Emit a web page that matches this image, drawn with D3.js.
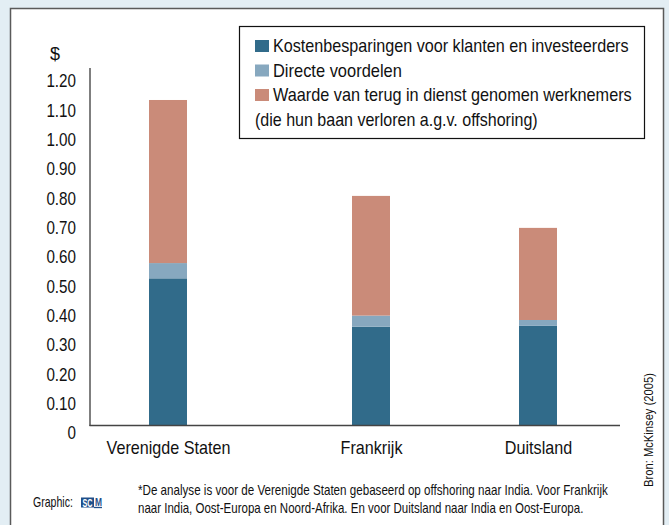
<!DOCTYPE html>
<html>
<head>
<meta charset="utf-8">
<script src="https://cdn.jsdelivr.net/npm/d3@7"></script>
<style>
  html, body { margin: 0; padding: 0; background: #e3eef4; }
  svg { display: block; }
  text { font-family: "Liberation Sans", Arial, sans-serif; fill: #111; }
</style>
</head>
<body>
<svg id="chart" width="669" height="525"></svg>
<script>
// ---- data ----
const categories = ["Verenigde Staten", "Frankrijk", "Duitsland"];
const kostenbesparingen = [0.50, 0.335, 0.338];
const directeVoordelen = [0.052, 0.038, 0.020];
const waardeWerknemers = [0.556, 0.408, 0.314];
const seriesNames = [
  "Kostenbesparingen voor klanten en investeerders",
  "Directe voordelen",
  "Waarde van terug in dienst genomen werknemers"
];
const legendExtraLine = "(die hun baan verloren a.g.v. offshoring)";
const tickValues = [0, 0.1, 0.2, 0.3, 0.4, 0.5, 0.6, 0.7, 0.8, 0.9, 1.0, 1.1, 1.2];
const tickLabels = ["0", "0.10", "0.20", "0.30", "0.40", "0.50", "0.60", "0.70", "0.80", "0.90", "1.00", "1.10", "1.20"];
const unitLabel = "$";
const footnoteLines = [
  "*De analyse is voor de Verenigde Staten gebaseerd op offshoring naar India. Voor Frankrijk",
  "naar India, Oost-Europa en Noord-Afrika. En voor Duitsland naar India en Oost-Europa."
];
const sourceText = "Bron: McKinsey (2005)";
const creditText = "Graphic:";

// ---- layout ----
const colors = ["#316b8a", "#87a8bf", "#ca8b79"];
const barCenters = [168, 371, 538];
const barWidth = 38;
const legendWidths = [356, 129, 359, 283];
const footnoteWidths = [470, 446];

// condense text horizontally (narrow typeface look)
function condense(sel, factor) {
  sel.each(function () {
    const w = this.getComputedTextLength();
    d3.select(this).attr("textLength", w * factor).attr("lengthAdjust", "spacingAndGlyphs");
  });
}
// place a text squeezed horizontally to a target width using a transform
function fitText(parent, str, x, y, size, target, extra) {
  const t = parent.append("text").attr("font-size", size).text(str);
  if (extra) extra(t);
  const w = t.node().getComputedTextLength();
  t.attr("transform", `translate(${x},${y}) scale(${target / w},1)`);
  return t;
}

const svg = d3.select("#chart");

// panel
svg.append("rect").attr("x", 10.5).attr("y", 8.5).attr("width", 653).attr("height", 530)
  .attr("fill", "#fff").attr("stroke", "#5a5a5a").attr("stroke-width", 1.5);

const y = d3.scaleLinear().domain([0, 1.2]).range([425, 73]);
const x = d3.scaleOrdinal().domain(categories).range(barCenters);

// stacked data
const table = categories.map((c, i) => ({
  cat: c, s0: kostenbesparingen[i], s1: directeVoordelen[i], s2: waardeWerknemers[i]
}));
const stack = d3.stack().keys(["s0", "s1", "s2"])(table);

svg.append("g").selectAll("g").data(stack).join("g")
  .attr("fill", (d, i) => colors[i])
  .selectAll("rect").data(d => d).join("rect")
  .attr("x", d => x(d.data.cat) - barWidth / 2)
  .attr("width", barWidth)
  .attr("y", d => y(d[1]))
  .attr("height", d => y(d[0]) - y(d[1]));

// y axis
const yAxis = d3.axisLeft(y).tickValues(tickValues).tickSize(0)
  .tickFormat((d, i) => tickLabels[i]).tickPadding(14);
const yg = svg.append("g").attr("transform", "translate(90,0)").call(yAxis);
yg.select(".domain").remove();
yg.selectAll("text").attr("font-size", 19).attr("dy", "0.36em")
  .attr("transform", "translate(0,7)")
  .style("font-family", '"Liberation Sans", Arial, sans-serif').attr("fill", "#111");
condense(yg.selectAll("text"), 0.8);
svg.append("line").attr("x1", 90).attr("x2", 90).attr("y1", 68).attr("y2", 426)
  .attr("stroke", "#555").attr("stroke-width", 1.5);

// x axis
const xAxis = d3.axisBottom(x).tickSize(0).tickPadding(15);
const xg = svg.append("g").attr("transform", "translate(0,425.5)").call(xAxis);
xg.select(".domain").remove();
xg.selectAll("text").attr("font-size", 19)
  .style("font-family", '"Liberation Sans", Arial, sans-serif').attr("fill", "#111");
condense(xg.selectAll("text"), 0.85);
svg.append("line").attr("x1", 89.5).attr("x2", 620).attr("y1", 425.5).attr("y2", 425.5)
  .attr("stroke", "#444").attr("stroke-width", 1.5);

// unit label
svg.append("text").attr("x", 55).attr("y", 60).attr("text-anchor", "middle")
  .attr("font-size", 18).text(unitLabel);

// legend
const lg = svg.append("g");
lg.append("rect").attr("x", 239.5).attr("y", 26.5).attr("width", 405).attr("height", 112)
  .attr("fill", "#fff").attr("stroke", "#111").attr("stroke-width", 1.2);
const legBase = [52, 76.5, 101];
seriesNames.forEach((name, i) => {
  lg.append("rect").attr("x", 255).attr("y", legBase[i] - 12).attr("width", 14).attr("height", 12)
    .attr("fill", colors[i]);
  fitText(lg, name, 273, legBase[i], 17.5, legendWidths[i]);
});
fitText(lg, legendExtraLine, 255, 125.5, 17.5, legendWidths[3]);

// footnote
footnoteLines.forEach((t, i) => {
  fitText(svg, t, 138, 495 + i * 18, 14, footnoteWidths[i]);
});

// graphic credit
fitText(svg, creditText, 33, 507, 14, 40);
svg.append("rect").attr("x", 81).attr("y", 497.5).attr("width", 13).attr("height", 10).attr("fill", "#1f4f8a");
fitText(svg, "SC", 82.5, 506.5, 11, 10, t => t.attr("font-weight", "bold").style("fill", "#fff"));
fitText(svg, "M", 95, 506, 11, 7, t => t.attr("font-weight", "bold").style("fill", "#1f4f8a"));
svg.append("line").attr("x1", 94).attr("x2", 102).attr("y1", 507.5).attr("y2", 507.5)
  .attr("stroke", "#1f4f8a").attr("stroke-width", 1.3);

// source (rotated)
const src = svg.append("text").attr("font-size", 12.5).attr("text-anchor", "middle").text(sourceText);
const sw = src.node().getComputedTextLength();
src.attr("transform", `translate(653,430) rotate(-90) scale(${114 / sw},1)`);
</script>
</body>
</html>
